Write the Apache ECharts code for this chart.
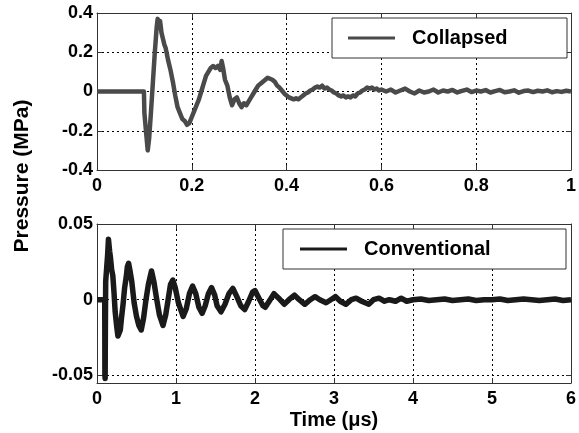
<!DOCTYPE html>
<html>
<head>
<meta charset="utf-8">
<script src="https://cdn.jsdelivr.net/npm/echarts@6/dist/echarts.min.js"></script>
<style>
html,body{margin:0;padding:0;background:#fff;}
#chart{width:579px;height:433px;}
</style>
</head>
<body>
<div id="chart"></div>
<script>
// ---- Data ----
const collapsedTime = [0, 0.05, 0.099, 0.1, 0.104, 0.107, 0.11, 0.114, 0.118, 0.122, 0.126, 0.128, 0.131, 0.133, 0.136, 0.139, 0.142, 0.145, 0.15, 0.155, 0.16, 0.165, 0.17, 0.175, 0.18, 0.185, 0.19, 0.195, 0.2, 0.205, 0.21, 0.215, 0.22, 0.225, 0.23, 0.235, 0.24, 0.245, 0.25, 0.255, 0.26, 0.263, 0.266, 0.27, 0.275, 0.28, 0.285, 0.29, 0.295, 0.3, 0.305, 0.31, 0.315, 0.32, 0.325, 0.33, 0.335, 0.34, 0.345, 0.35, 0.355, 0.36, 0.365, 0.37, 0.375, 0.38, 0.385, 0.39, 0.395, 0.4, 0.405, 0.41, 0.415, 0.42, 0.425, 0.43, 0.435, 0.44, 0.445, 0.45, 0.455, 0.46, 0.465, 0.47, 0.475, 0.48, 0.485, 0.49, 0.495, 0.5, 0.505, 0.51, 0.515, 0.52, 0.525, 0.53, 0.535, 0.54, 0.545, 0.55, 0.555, 0.56, 0.565, 0.57, 0.575, 0.58, 0.585, 0.59, 0.595, 0.6, 0.61, 0.62, 0.63, 0.64, 0.65, 0.66, 0.67, 0.68, 0.69, 0.7, 0.71, 0.72, 0.73, 0.74, 0.75, 0.76, 0.77, 0.78, 0.79, 0.8, 0.81, 0.82, 0.83, 0.84, 0.85, 0.86, 0.87, 0.88, 0.89, 0.9, 0.91, 0.92, 0.93, 0.94, 0.95, 0.96, 0.97, 0.98, 0.99, 1.0];
const collapsedPressure = [0, 0, 0, -0.11, -0.22, -0.30, -0.24, -0.10, 0.05, 0.20, 0.33, 0.37, 0.34, 0.36, 0.30, 0.27, 0.24, 0.22, 0.16, 0.11, 0.05, -0.02, -0.08, -0.11, -0.14, -0.15, -0.17, -0.16, -0.13, -0.10, -0.07, -0.04, 0.0, 0.04, 0.08, 0.10, 0.12, 0.13, 0.12, 0.13, 0.11, 0.155, 0.12, 0.06, 0.03, -0.03, -0.07, -0.04, -0.03, -0.06, -0.08, -0.06, -0.07, -0.05, -0.03, -0.01, 0.01, 0.03, 0.04, 0.05, 0.06, 0.07, 0.065, 0.06, 0.05, 0.03, 0.02, 0.005, -0.01, -0.02, -0.03, -0.035, -0.04, -0.035, -0.04, -0.03, -0.02, -0.01, -0.005, 0.005, 0.01, 0.02, 0.025, 0.02, 0.03, 0.015, 0.02, 0.01, 0.005, -0.005, -0.01, -0.02, -0.025, -0.02, -0.03, -0.025, -0.03, -0.02, -0.025, -0.01, -0.005, 0.005, 0.01, 0.02, 0.015, 0.02, 0.01, 0.015, 0.005, 0.01, 0.0, 0.01, -0.005, 0.005, 0.015, 0.0, -0.01, 0.005, -0.005, 0.0, 0.01, -0.005, 0.005, 0.0, 0.008, -0.005, 0.003, 0.01, -0.003, 0.005, 0.0, 0.007, -0.005, 0.002, 0.008, -0.004, 0.0, 0.006, -0.006, 0.002, 0.005, -0.003, 0.004, 0.0, 0.006, -0.004, 0.002, -0.002, 0.004, 0.0];

const conventionalTime = [0, 0.05, 0.098, 0.1, 0.103, 0.106, 0.11, 0.125, 0.135, 0.145, 0.15, 0.16, 0.17, 0.185, 0.2, 0.215, 0.23, 0.25, 0.265, 0.28, 0.295, 0.31, 0.33, 0.35, 0.37, 0.385, 0.4, 0.415, 0.44, 0.47, 0.5, 0.53, 0.56, 0.59, 0.62, 0.65, 0.69, 0.72, 0.75, 0.79, 0.835, 0.87, 0.9, 0.93, 0.96, 0.99, 1.03, 1.09, 1.13, 1.17, 1.21, 1.25, 1.29, 1.33, 1.37, 1.41, 1.45, 1.49, 1.52, 1.57, 1.62, 1.67, 1.72, 1.77, 1.82, 1.87, 1.92, 1.97, 2.0, 2.05, 2.1, 2.13, 2.18, 2.24, 2.3, 2.37, 2.43, 2.5, 2.56, 2.63, 2.7, 2.76, 2.82, 2.9, 2.96, 3.02, 3.08, 3.15, 3.22, 3.28, 3.35, 3.44, 3.5, 3.57, 3.64, 3.7, 3.78, 3.85, 3.92, 4.0, 4.1, 4.2, 4.3, 4.4, 4.5, 4.6, 4.7, 4.8, 4.9, 5.0, 5.1, 5.2, 5.3, 5.4, 5.5, 5.6, 5.7, 5.8, 5.9, 6.0];
const conventionalPressure = [0, 0, 0, -0.05, -0.052, -0.02, 0.012, 0.013, 0.03, 0.040, 0.041, 0.032, 0.028, 0.02, 0.016, 0.005, -0.008, -0.018, -0.024, -0.025, -0.02, -0.012, -0.003, 0.008, 0.015, 0.022, 0.024, 0.02, 0.012, -0.002, -0.011, -0.017, -0.02, -0.012, 0.0, 0.01, 0.019, 0.012, 0.002, -0.01, -0.017, -0.01, 0.0, 0.01, 0.013, 0.008, -0.002, -0.011, -0.006, 0.004, 0.009, 0.004, -0.005, -0.009, -0.004, 0.004, 0.008, 0.003, -0.004, -0.008, -0.003, 0.004, 0.0075, 0.002, -0.004, -0.0065, -0.001, 0.005, 0.006, 0.001, -0.004, -0.005, -0.001, 0.004, 0.001, -0.003, 0.0, 0.003, 0.0, -0.003, 0.0, 0.002, 0.0, -0.002, 0.0, 0.002, -0.001, -0.003, 0.0, 0.001, -0.001, -0.003, 0.0, 0.001, -0.001, 0.0, -0.001, 0.001, -0.001, 0.0, 0.0005, -0.0005, 0.0, 0.0005, -0.0005, 0.0, 0.0005, -0.0005, 0.0, 0.0, 0.0005, -0.0005, 0.0, 0.0005, 0.0, -0.0005, 0.0, 0.0005, -0.0005, 0.0];

const topXTicks = [0, 0.2, 0.4, 0.6, 0.8, 1];
const topYTicks = [-0.4, -0.2, 0, 0.2, 0.4];
const bottomXTicks = [0, 1, 2, 3, 4, 5, 6];
const bottomYTicks = [-0.05, 0, 0.05];

const seriesNames = ['Collapsed', 'Conventional'];
const xTitle = 'Time (\u03bcs)';
const yTitle = 'Pressure (MPa)';

// ---- Chart ----
const chart = echarts.init(document.getElementById('chart'), null, {renderer: 'canvas'});
const FONT = 'Liberation Sans, Arial, sans-serif';
const frameColor = '#333';
const gridLine = {show: true, lineStyle: {color: '#000', width: 1, type: [2, 3]}};
const lbl = {color: '#000', fontFamily: FONT, fontWeight: 'bold', fontSize: 18};

function pairs(xs, ys) { return xs.map((x, i) => [x, ys[i]]); }

function mainX(gridIndex, min, max, interval, extra) {
  return Object.assign({
    type: 'value', gridIndex, min, max, interval, position: 'bottom',
    axisLine: {show: true, onZero: false, lineStyle: {color: frameColor, width: 1}},
    axisTick: {show: true, inside: true, length: 5, lineStyle: {color: frameColor}},
    axisLabel: Object.assign({margin: 7, showMinLabel: true, showMaxLabel: true}, lbl),
    splitLine: gridLine
  }, extra || {});
}
function sideX(gridIndex, min, max, interval) {
  return {
    type: 'value', gridIndex, min, max, interval, position: 'top',
    axisLine: {show: true, onZero: false, lineStyle: {color: frameColor, width: 1}},
    axisTick: {show: true, inside: true, length: 5, lineStyle: {color: frameColor}},
    axisLabel: {show: false}, splitLine: {show: false}
  };
}
function legendBox(name, left, top, padRight, padLeft, textWidth) {
  return {
    data: [name], left, top, orient: 'horizontal',
    backgroundColor: '#fff', borderColor: '#333', borderWidth: 1,
    padding: [10, padRight, 10, padLeft], itemWidth: 47, itemHeight: 3, icon: 'rect',
    textStyle: {color: '#000', fontFamily: FONT, fontWeight: 'bold', fontSize: 20,
      width: textWidth, lineHeight: 20, padding: [0, 0, 0, 12]}
  };
}

const option = {
  backgroundColor: '#fff',
  animation: false,
  grid: [
    {left: 97, top: 13, width: 476, height: 157, containLabel: false},
    {left: 97, top: 224, width: 476, height: 159, containLabel: false}
  ],
  xAxis: [
    mainX(0, 0, 1, 0.2),
    sideX(0, 0, 1, 0.2),
    mainX(1, 0, 6, 1, {
      name: xTitle, nameLocation: 'middle', nameGap: 27,
      nameTextStyle: {color: '#000', fontFamily: FONT, fontWeight: 'bold', fontSize: 20}
    }),
    sideX(1, 0, 6, 1)
  ],
  yAxis: [
    {
      type: 'value', gridIndex: 0, min: -0.4, max: 0.4, interval: 0.2, position: 'left',
      axisLine: {show: true, onZero: false, lineStyle: {color: frameColor}},
      axisTick: {show: true, inside: true, length: 5, lineStyle: {color: frameColor}},
      axisLabel: Object.assign({margin: 4, showMinLabel: true, showMaxLabel: true,
        formatter: v => String(Math.round(v * 10) / 10)}, lbl),
      splitLine: gridLine
    },
    {
      type: 'value', gridIndex: 0, min: -0.4, max: 0.4, interval: 0.2, position: 'right',
      axisLine: {show: true, onZero: false, lineStyle: {color: frameColor}},
      axisTick: {show: true, inside: true, length: 5, lineStyle: {color: frameColor}},
      axisLabel: {show: false}, splitLine: {show: false}
    },
    {
      type: 'value', gridIndex: 1, min: -0.055, max: 0.05, position: 'left',
      axisLine: {show: true, onZero: false, lineStyle: {color: frameColor}},
      axisTick: {show: true, inside: true, length: 5, lineStyle: {color: frameColor}, customValues: bottomYTicks},
      axisLabel: Object.assign({margin: 4, customValues: bottomYTicks,
        formatter: v => String(Math.round(v * 100) / 100)}, lbl),
      splitLine: gridLine
    },
    {
      type: 'value', gridIndex: 1, min: -0.055, max: 0.05, position: 'right',
      axisLine: {show: true, onZero: false, lineStyle: {color: frameColor}},
      axisTick: {show: true, inside: true, length: 5, lineStyle: {color: frameColor}, customValues: bottomYTicks},
      axisLabel: {show: false}, splitLine: {show: false}
    }
  ],
  legend: [
    legendBox(seriesNames[0], 332, 18, 57, 16, 98),
    legendBox(seriesNames[1], 283, 229, 70, 17, 132)
  ],
  graphic: [
    {
      type: 'text', x: 22, y: 176, rotation: Math.PI / 2,
      style: {text: yTitle, fill: '#000', font: 'bold 21px ' + FONT, textAlign: 'center', textVerticalAlign: 'middle'}
    }
  ],
  series: [
    {
      name: seriesNames[0], type: 'line', xAxisIndex: 0, yAxisIndex: 0,
      data: pairs(collapsedTime, collapsedPressure),
      symbol: 'none', showSymbol: false,
      lineStyle: {color: '#4a4a4a', width: 4.5, join: 'round'},
      itemStyle: {color: '#4a4a4a'}
    },
    {
      name: seriesNames[1], type: 'line', xAxisIndex: 2, yAxisIndex: 2,
      data: pairs(conventionalTime, conventionalPressure),
      symbol: 'none', showSymbol: false,
      lineStyle: {color: '#1a1a1a', width: 5.5, join: 'round'},
      itemStyle: {color: '#1a1a1a'}
    }
  ]
};
chart.setOption(option);
</script>
</body>
</html>
